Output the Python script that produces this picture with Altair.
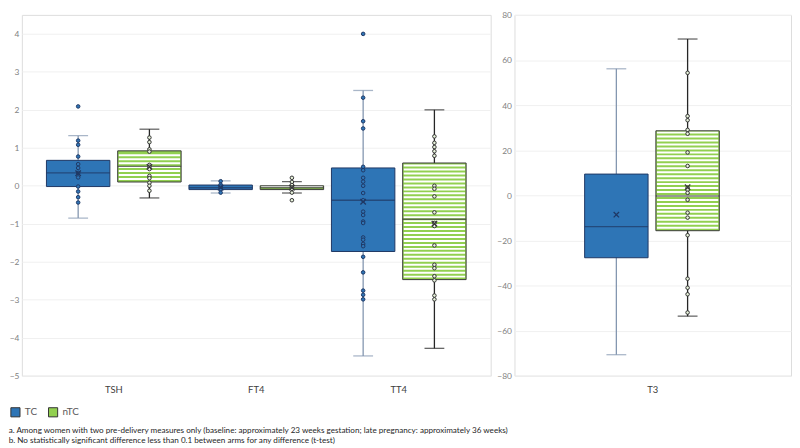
import altair as alt
import pandas as pd
import numpy as np

arms = ["TC", "nTC"]
left_tests = ["TSH", "FT4", "TT4"]
right_tests = ["T3"]

# box summary per (test, arm)
box_test = ["TSH", "TSH", "FT4", "FT4", "TT4", "TT4", "T3", "T3"]
box_arm = ["TC", "nTC", "TC", "nTC", "TC", "nTC", "TC", "nTC"]
q1 = [-0.02, 0.10, -0.10, -0.10, -1.73, -2.47, -27.7, -15.7]
median = [0.34, 0.51, -0.05, -0.05, -0.38, -0.88, -13.9, -0.3]
q3 = [0.67, 0.92, 0.02, 0.00, 0.47, 0.60, 9.4, 28.6]
whisk_lo = [-0.85, -0.32, -0.19, -0.19, -4.48, -4.28, -70.7, -53.6]
whisk_hi = [1.32, 1.49, 0.13, 0.11, 2.51, 2.00, 56.1, 69.3]
mean = [0.33, 0.50, -0.05, -0.05, -0.42, -1.00, -8.6, 3.6]

# individual observations shown as dots
pts_TSH_TC = [2.09, 1.19, 1.08, 0.77, 0.57, 0.47, 0.34, 0.22, -0.02, -0.15, -0.30, -0.44]
pts_TSH_nTC = [1.27, 1.15, 0.96, 0.90, 0.55, 0.50, 0.44, 0.26, 0.20, 0.08, 0.0, -0.13]
pts_FT4_TC = [0.12, 0.03, -0.02, -0.06, -0.10, -0.18]
pts_FT4_nTC = [0.21, 0.10, 0.02, -0.04, -0.08, -0.18, -0.38]
pts_TT4_TC = [4.0, 2.32, 1.70, 1.51, 0.50, 0.41, 0.21, 0.11, 0.0, -0.19, -0.38, -0.68,
              -0.77, -0.94, -0.98, -1.36, -1.42, -1.53, -1.59, -1.87, -2.28, -2.76, -2.87, -2.99]
pts_TT4_nTC = [1.30, 1.13, 1.02, 0.91, 0.79, 0.0, -0.08, -0.28, -0.70, -0.98, -1.06, -1.57,
               -2.08, -2.17, -2.38, -2.49, -2.89, -2.99]
pts_T3_TC = []
pts_T3_nTC = [54.3, 35.1, 33.3, 29.0, 27.3, 19.0, 13.0, 3.3, 2.4, 1.1, -2.0, -7.7, -9.9,
              -17.7, -37.0, -41.0, -43.9, -52.0]

footnotes = [
    "a. Among women with two pre-delivery measures only (baseline: approximately 23 weeks gestation; late pregnancy: approximately 36 weeks)",
    "b. No statistically significant difference less than 0.1 between arms for any difference (t-test)",
]

# ---------- styling ----------
FONT = "Lato"
TC_FILL, NTC_FILL = "#2e75b6", "#92d050"
BOX_STROKE = {"TC": "#1f3864", "nTC": "#3a3a3a"}
WHISK = {"TC": "#8497b0", "nTC": "#262626"}
PT_FILL = {"TC": "#2e75b6", "nTC": "#e8f3dc"}
PT_STROKE = {"TC": "#1f3864", "nTC": "#333333"}
PLOT_H = 364
BOX_W = 64

stats = pd.DataFrame({"test": box_test, "arm": box_arm, "q1": q1, "median": median,
                      "q3": q3, "lo": whisk_lo, "hi": whisk_hi, "mean": mean})
stats["bcol"] = stats["arm"].map(BOX_STROKE)
stats["wcol"] = stats["arm"].map(WHISK)

pt_src = {("TSH", "TC"): pts_TSH_TC, ("TSH", "nTC"): pts_TSH_nTC,
          ("FT4", "TC"): pts_FT4_TC, ("FT4", "nTC"): pts_FT4_nTC,
          ("TT4", "TC"): pts_TT4_TC, ("TT4", "nTC"): pts_TT4_nTC,
          ("T3", "TC"): pts_T3_TC, ("T3", "nTC"): pts_T3_nTC}
rows = []
for (t, a), vals in pt_src.items():
    for v in vals:
        rows.append({"test": t, "arm": a, "value": v,
                     "pfill": PT_FILL[a], "pstroke": PT_STROKE[a]})
points = pd.DataFrame(rows)


def stripes_for(df, step):
    out = []
    for _, r in df[df["arm"] == "nTC"].iterrows():
        for y in np.arange(r["q1"] + step * 0.75, r["q3"] - step * 0.2, step):
            out.append({"test": r["test"], "arm": "nTC", "y": float(y)})
    return pd.DataFrame(out, columns=["test", "arm", "y"])


def panel(tests, ydom, yvals, width, pad_outer):
    s = stats[stats["test"].isin(tests)]
    p = points[points["test"].isin(tests)]
    step = 4 * (ydom[1] - ydom[0]) / PLOT_H
    st = stripes_for(s, step)

    X = alt.X("test:N", scale=alt.Scale(domain=tests, paddingInner=0, paddingOuter=pad_outer),
              axis=alt.Axis(title=None, ticks=False, domain=False, labelAngle=0, labelPadding=9,
                            labelColor="#404040", labelFontSize=9.5, labelFont=FONT, grid=False))
    XO = alt.XOffset("arm:N", scale=alt.Scale(domain=arms, paddingInner=0, paddingOuter=0))
    ysc = alt.Scale(domain=ydom, nice=False, zero=False)
    yax = alt.Axis(title=None, values=yvals, ticks=False, domain=False, labelPadding=3,
                   labelColor="#7f7f7f", labelFontSize=8.5, labelFont=FONT,
                   grid=True, gridColor="#f0f0f0", gridWidth=1)

    whisk = alt.Chart(s).mark_rule(strokeWidth=1.3).encode(
        x=X, xOffset=XO, y=alt.Y("lo:Q", scale=ysc, axis=yax), y2="hi:Q",
        color=alt.Color("wcol:N", scale=None))
    caps_hi = alt.Chart(s).mark_tick(orient="horizontal", size=20, thickness=1.3).encode(
        x=X, xOffset=XO, y=alt.Y("hi:Q", scale=ysc), color=alt.Color("wcol:N", scale=None))
    caps_lo = alt.Chart(s).mark_tick(orient="horizontal", size=20, thickness=1.3).encode(
        x=X, xOffset=XO, y=alt.Y("lo:Q", scale=ysc), color=alt.Color("wcol:N", scale=None))
    box = alt.Chart(s).mark_bar(width=BOX_W).encode(
        x=X, xOffset=XO, y=alt.Y("q1:Q", scale=ysc), y2="q3:Q",
        fill=alt.Fill("arm:N", scale=alt.Scale(domain=arms, range=[TC_FILL, NTC_FILL]),
                      legend=alt.Legend(title=None, orient="none", direction="horizontal",
                                        legendX=-12, legendY=PLOT_H + 31,
                                        symbolType="square", symbolSize=85,
                                        symbolStrokeColor="#333333", symbolStrokeWidth=1,
                                        labelFont=FONT, labelFontSize=10, labelColor="#595959",
                                        columnPadding=8)))
    stripes = alt.Chart(st).mark_tick(orient="horizontal", size=BOX_W - 2, thickness=2,
                                      color="#ffffff", opacity=1).encode(
        x=X, xOffset=XO, y=alt.Y("y:Q", scale=ysc))
    outline = alt.Chart(s).mark_bar(width=BOX_W, fillOpacity=0, strokeWidth=1).encode(
        x=X, xOffset=XO, y=alt.Y("q1:Q", scale=ysc), y2="q3:Q",
        stroke=alt.Stroke("bcol:N", scale=None))
    med = alt.Chart(s).mark_tick(orient="horizontal", size=BOX_W, thickness=1.4).encode(
        x=X, xOffset=XO, y=alt.Y("median:Q", scale=ysc), color=alt.Color("bcol:N", scale=None))
    dots = alt.Chart(p).mark_point(filled=True, shape="circle", size=13, strokeWidth=1,
                                   opacity=1).encode(
        x=X, xOffset=XO, y=alt.Y("value:Q", scale=ysc),
        color=alt.Color("pfill:N", scale=None), stroke=alt.Stroke("pstroke:N", scale=None))
    means = alt.Chart(s).mark_point(shape="M-1,-1L1,1M-1,1L1,-1", size=30, filled=False,
                                    strokeWidth=1.3, opacity=1).encode(
        x=X, xOffset=XO, y=alt.Y("mean:Q", scale=ysc), color=alt.Color("bcol:N", scale=None))

    return alt.layer(whisk, box, stripes, outline, med, caps_hi, caps_lo, dots, means).properties(
        width=width, height=PLOT_H)


left = panel(left_tests, [-5, 4.5], list(range(-5, 5)), 473, 0.145)
right = panel(right_tests, [-80, 80], list(range(-80, 81, 20)), 279, 0.46)

chart = alt.hconcat(left, right, spacing=4).resolve_scale(
    y="independent", x="independent", fill="shared").resolve_legend(fill="shared").properties(
    padding={"left": 0, "top": 0, "right": 0, "bottom": 0},
    title=alt.TitleParams(text=footnotes, orient="bottom", anchor="start", fontSize=8.2,
                          font=FONT, fontWeight="normal", color="#262626", lineHeight=10,
                          offset=8),
).configure_view(stroke="#595959", strokeWidth=1.2).configure(background="white")

chart.save("out.html", embed_options={"renderer": "svg", "actions": False})
